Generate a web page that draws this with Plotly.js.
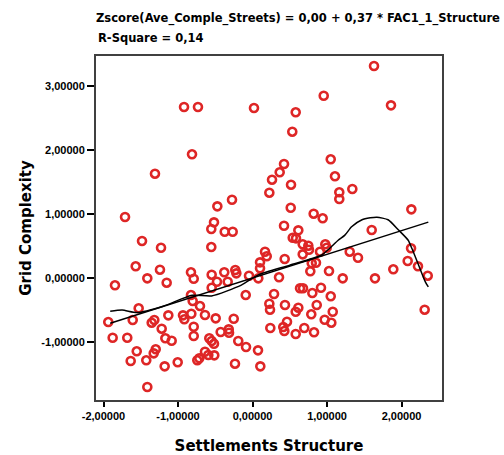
<!DOCTYPE html>
<html>
<head>
<meta charset="utf-8">
<script src="https://cdn.plot.ly/plotly-3.0.1.min.js"></script>
<style>html,body{margin:0;padding:0;background:#fff;}#chart{width:504px;height:455px;}</style>
</head>
<body>
<div id="chart"></div>
<script>
// Settlements Structure (FAC1_1_Structure)
const structure = [
-0.919,-0.732,0.020,-0.812,-1.309,-0.275,-0.472,-1.711,-0.517,-0.553,-0.373,-0.266,
1.631,0.956,1.859,0.580,0.534,0.423,1.050,0.365,0.262,0.517,1.107,0.226,1.340,1.165,1.165,
0.513,0.821,0.942,2.132,0.423,0.615,1.600,
-1.483,-1.228,-0.553,-1.568,-1.242,-0.826,-0.548,-0.379,-0.231,-0.217,0.101,0.101,
-1.412,-1.152,-0.789,-0.477,-0.333,-0.047,-1.846,-0.548,-0.826,-0.091,-0.803,-0.705,-1.528,
-1.936,-1.608,-1.318,-1.353,-1.130,-0.933,-0.915,-0.821,-0.638,-0.494,-0.252,
-1.219,-0.789,-0.789,-1.877,-1.681,-1.170,-1.085,-0.427,-0.319,-0.315,-0.580,-0.548,-0.517,
-0.191,-0.087,-1.299,-1.326,-1.554,0.074,-1.635,-1.426,-1.004,-1.179,-0.741,-0.714,-0.638,
-0.593,-0.513,-0.235,0.105,-1.412,
0.540,0.584,0.674,0.749,0.758,0.977,0.996,0.906,0.168,0.191,0.674,0.432,1.305,1.416,2.128,
2.083,0.795,0.852,1.890,2.221,0.776,1.027,2.352,0.356,0.078,1.211,1.644,0.638,0.678,0.919,
0.289,0.803,1.050,0.226,0.235,0.436,0.615,0.580,0.862,0.789,1.077,2.311,0.969,1.058,0.463,
0.413,0.427,0.239,0.695,0.580,0.826
];
// Grid Complexity (Zscore Ave_Comple_Streets)
const complexity = [
2.672,2.672,2.656,1.933,1.630,1.223,1.120,0.953,0.870,0.766,0.723,0.723,
3.313,2.848,2.698,2.589,2.286,1.781,1.855,1.652,1.536,1.458,1.589,1.333,1.391,1.339,1.234,
1.098,1.005,0.933,1.073,0.817,0.745,0.750,
0.578,0.473,0.484,0.183,0.130,0.089,0.052,0.089,0.125,0.073,0.245,0.152,
-0.005,-0.073,-0.011,-0.058,-0.058,0.036,-0.114,-0.152,-0.266,-0.266,-0.359,-0.438,-0.473,
-0.688,-0.656,-0.656,-0.698,-0.583,-0.583,-0.645,-0.558,-0.578,-0.630,-0.636,
-0.792,-0.761,-0.906,-0.933,-0.933,-0.942,-0.980,-0.844,-0.802,-0.855,-0.942,-0.984,-1.027,
-0.984,-1.078,-1.114,-1.177,-1.145,-1.130,-1.297,-1.286,-1.317,-1.380,-1.286,-1.255,-1.152,
-1.203,-1.208,-1.339,-1.380,-1.703,
0.630,0.620,0.527,0.505,0.442,0.527,0.473,0.411,0.411,0.339,0.370,0.297,0.411,0.317,0.464,
0.266,0.230,0.239,0.136,0.183,0.105,0.109,0.036,0.011,-0.005,-0.005,-0.005,-0.161,-0.161,-0.152,
-0.250,-0.234,-0.286,-0.402,-0.495,-0.422,-0.464,-0.527,-0.422,-0.567,-0.527,-0.495,-0.652,-0.698,-0.683,
-0.766,-0.828,-0.781,-0.781,-0.875,-0.848
];
// Linear fit endpoints (x) and coefficients
const fitX = [-1.91, 2.36];
const intercept = 0.00, slope = 0.37;
// Loess curve
const loessX = [-1.91,-1.75,-1.55,-1.20,-0.81,-0.55,-0.15,0.08,0.50,0.93,1.15,1.24,1.33,1.47,1.58,1.67,1.82,1.96,2.09,2.14,2.23,2.32,2.36];
const loessY = [-0.52,-0.50,-0.54,-0.44,-0.27,-0.28,-0.11,0.05,0.20,0.36,0.59,0.67,0.80,0.91,0.94,0.95,0.91,0.75,0.59,0.46,0.20,-0.06,-0.14];
// Tick labels
const xTickVals = [-2,-1,0,1,2];
const xTickText = ["-2,00000","-1,00000","0,00000","1,00000","2,00000"];
const yTickVals = [-1,0,1,2,3];
const yTickText = ["-1,00000","0,00000","1,00000","2,00000","3,00000"];

const fitY = fitX.map(v => intercept + slope * v);

const heavy = '"DejaVu Sans", "Liberation Sans", Arial, sans-serif';
const tickFont = {family: '"Liberation Sans Narrow", "Liberation Sans", Arial, sans-serif', size: 11, color: '#000', weight: 'bold'};

const traces = [
  {x: structure, y: complexity, type: 'scatter', mode: 'markers',
   marker: {symbol: 'circle-open', size: 8, color: 'rgb(222,38,38)', line: {width: 2.6, color: 'rgb(222,38,38)'}},
   hoverinfo: 'skip', showlegend: false},
  {x: fitX, y: fitY, type: 'scatter', mode: 'lines', line: {color: '#000', width: 1.5}, showlegend: false},
  {x: loessX, y: loessY, type: 'scatter', mode: 'lines', line: {color: '#000', width: 1.5, shape: 'spline', smoothing: 0.6}, showlegend: false}
];

const layout = {
  width: 504, height: 455,
  margin: {l: 96, r: 62, t: 56, b: 55},
  paper_bgcolor: '#fff', plot_bgcolor: '#fff',
  font: {family: '"Liberation Sans", Arial, sans-serif', color: '#000'},
  title: {text: '<b>Zscore(Ave_Comple_Streets) = 0,00 + 0,37 * FAC1_1_Structure</b>',
          x: 96/504, xref: 'container', xanchor: 'left', y: 1 - 14/455, yref: 'container', yanchor: 'top',
          font: {size: 11.5, family: heavy, color: '#000'}},
  annotations: [{text: '<b>R-Square = 0,14</b>', xref: 'paper', yref: 'paper', x: 0, y: 1 + 9/344,
                 xanchor: 'left', yanchor: 'bottom', showarrow: false,
                 font: {size: 11.5, family: heavy, color: '#000'}}],
  xaxis: {range: [-2.1007, 2.5436], showgrid: false, zeroline: false,
          showline: true, mirror: true, linecolor: '#404040', linewidth: 2,
          ticks: 'outside', ticklen: 5, tickwidth: 2, tickcolor: '#000',
          tickvals: xTickVals, ticktext: xTickText, tickfont: tickFont,
          title: {text: '<b>Settlements Structure</b>', standoff: 19, font: {size: 15, family: heavy, color: '#000'}}},
  yaxis: {range: [-1.906, 3.469], showgrid: false, zeroline: false,
          showline: true, mirror: true, linecolor: '#404040', linewidth: 2,
          ticks: 'outside', ticklen: 7, tickwidth: 2, tickcolor: '#000',
          tickvals: yTickVals, ticktext: yTickText, tickfont: tickFont,
          title: {text: '<b>Grid Complexity</b>', standoff: 6, font: {size: 15, family: heavy, color: '#000'}}}
};

Plotly.newPlot('chart', traces, layout, {displayModeBar: false, staticPlot: true});
</script>
</body>
</html>
